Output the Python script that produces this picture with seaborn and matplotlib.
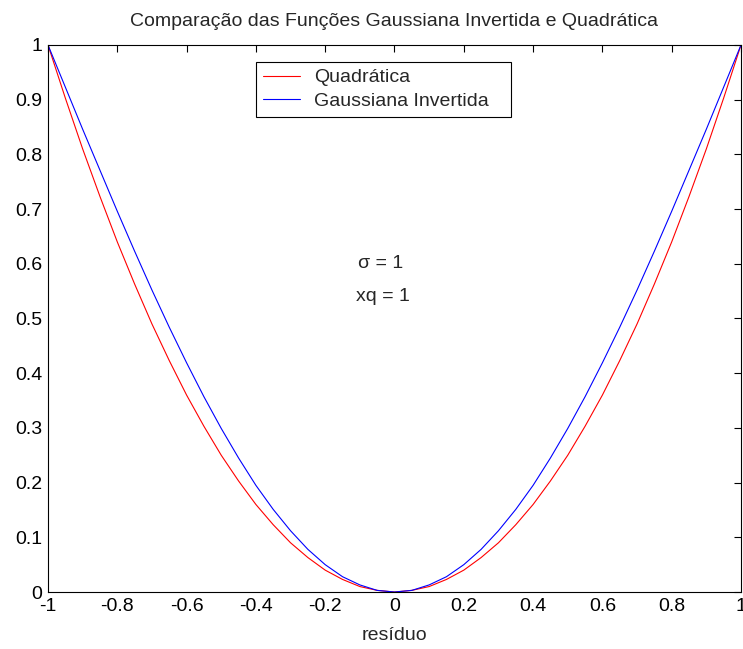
import numpy as np
import pandas as pd
import matplotlib
matplotlib.use("Agg")
import matplotlib.pyplot as plt
import seaborn as sns

sns.set_style("white")
plt.rcParams['font.family'] = ['Liberation Sans', 'DejaVu Sans']

# residual values (symmetric around 0)
residuo = [-1.00, -0.95, -0.90, -0.85, -0.80, -0.75, -0.70, -0.65, -0.60, -0.55,
           -0.50, -0.45, -0.40, -0.35, -0.30, -0.25, -0.20, -0.15, -0.10, -0.05,
           0.00, 0.05, 0.10, 0.15, 0.20, 0.25, 0.30, 0.35, 0.40, 0.45,
           0.50, 0.55, 0.60, 0.65, 0.70, 0.75, 0.80, 0.85, 0.90, 0.95, 1.00]

# quadratic cost
quadratica = [1.000, 0.903, 0.810, 0.723, 0.640, 0.563, 0.490, 0.423, 0.360, 0.303,
              0.250, 0.203, 0.160, 0.123, 0.090, 0.063, 0.040, 0.023, 0.010, 0.003,
              0.000, 0.003, 0.010, 0.023, 0.040, 0.063, 0.090, 0.123, 0.160, 0.203,
              0.250, 0.303, 0.360, 0.423, 0.490, 0.563, 0.640, 0.723, 0.810, 0.903, 1.000]

# inverted gaussian cost (normalised)
gaussiana = [1.000, 0.923, 0.846, 0.771, 0.696, 0.623, 0.552, 0.484, 0.419, 0.357,
             0.299, 0.245, 0.195, 0.151, 0.112, 0.078, 0.050, 0.028, 0.013, 0.003,
             0.000, 0.003, 0.013, 0.028, 0.050, 0.078, 0.112, 0.151, 0.195, 0.245,
             0.299, 0.357, 0.419, 0.484, 0.552, 0.623, 0.696, 0.771, 0.846, 0.923, 1.000]

x_ticks = [-1, -0.8, -0.6, -0.4, -0.2, 0, 0.2, 0.4, 0.6, 0.8, 1]
x_tick_labels = ["-1", "-0.8", "-0.6", "-0.4", "-0.2", "0", "0.2", "0.4", "0.6", "0.8", "1"]
y_ticks = [0, 0.1, 0.2, 0.3, 0.4, 0.5, 0.6, 0.7, 0.8, 0.9, 1]
y_tick_labels = ["0", "0.1", "0.2", "0.3", "0.4", "0.5", "0.6", "0.7", "0.8", "0.9", "1"]

df = pd.DataFrame({
    "residuo": residuo * 2,
    "valor": quadratica + gaussiana,
    "funcao": ["Quadrática"] * len(residuo) + ["Gaussiana Invertida"] * len(residuo),
})

FS = 14

fig = plt.figure(figsize=(7.43, 6.49), dpi=100)
ax = fig.add_axes([0.0646, 0.0878, 0.9327, 0.8429])

sns.lineplot(data=df, x="residuo", y="valor", hue="funcao",
             palette={"Quadrática": "#ff0000", "Gaussiana Invertida": "#0000ff"},
             linewidth=0.8, ax=ax, legend=True)

ax.set_xlim(-1, 1)
ax.set_ylim(0, 1)
ax.set_xticks(x_ticks)
ax.set_xticklabels(x_tick_labels)
ax.set_yticks(y_ticks)
ax.set_yticklabels(y_tick_labels)
ax.tick_params(direction="in", length=5, width=0.8, labelsize=FS, top=True, right=True,
               pad=4, colors="black")
for s in ax.spines.values():
    s.set_color("black")
    s.set_linewidth(0.8)

ax.set_xlabel("resíduo", fontsize=FS, labelpad=9)
ax.set_ylabel("")
ax.set_title("Comparação das Funções Gaussiana Invertida e Quadrática", fontsize=FS, pad=14)

ax.text(-0.105, 0.60, "σ = 1", fontsize=FS, va="center", ha="left")
ax.text(-0.11, 0.54, "xq = 1", fontsize=FS, va="center", ha="left")

# legend box stretched to a fixed width in axes coordinates
leg = ax.legend(loc="upper left", bbox_to_anchor=(0.30, 0.869, 0.368, 0.10),
                mode="expand", fontsize=FS,
                frameon=True, fancybox=False, framealpha=1, edgecolor="black",
                borderpad=0.35, handlelength=1.9, handletextpad=0.75, labelspacing=0.3,
                borderaxespad=0)
leg.get_frame().set_linewidth(0.8)

fig.savefig("out.png", dpi=100)
